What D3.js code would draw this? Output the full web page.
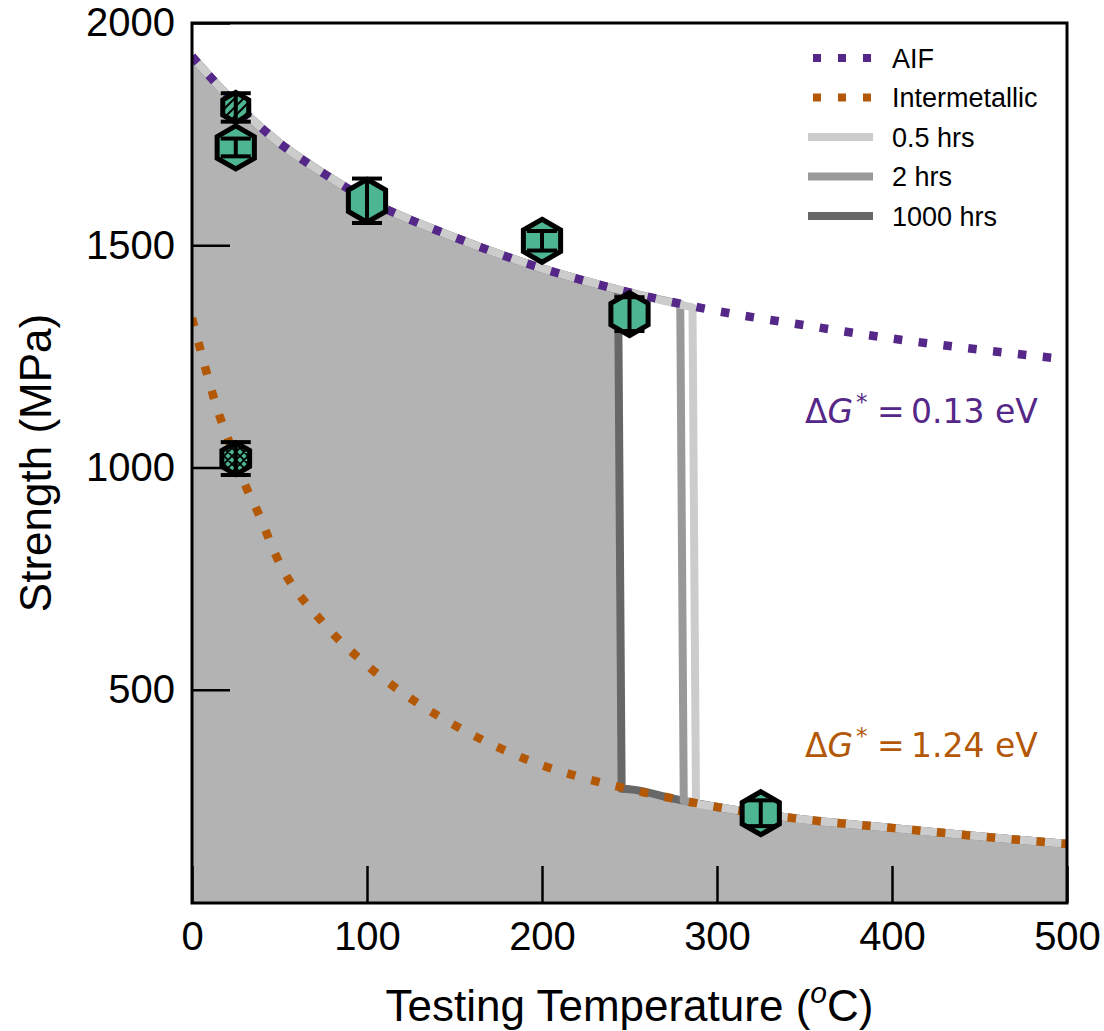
<!DOCTYPE html>
<html>
<head>
<meta charset="utf-8">
<script src="https://cdn.jsdelivr.net/npm/d3@7"></script>
<style>
  html, body { margin: 0; padding: 0; background: #ffffff; }
  svg { display: block; }
</style>
</head>
<body>
<svg id="chart" width="1104" height="1031"></svg>
<script>
// ---------------- data ----------------
const xTickValues = [0, 100, 200, 300, 400, 500];
const yTickValues = [500, 1000, 1500, 2000];

// AIF strength curve
const aifT = [0, 25, 50, 75, 100, 150, 200, 250, 300, 350, 400, 450, 500];
const aifS = [1925, 1818, 1730, 1662, 1603, 1518, 1448, 1394, 1352, 1320, 1290, 1265, 1243];

// Intermetallic strength curve
const interT = [0, 5, 10, 16, 21, 25, 31, 37, 50, 75, 100, 125, 150, 175, 200, 225, 250, 275, 300, 350, 400, 450, 500];
const interS = [1336, 1262, 1190, 1113, 1060, 1018, 955, 905, 785, 650, 555, 480, 420, 370, 330, 300, 276, 255, 236, 208, 189, 170, 153];

// Aging durations: transition from AIF to intermetallic
const durations = ["0.5 hrs", "2 hrs", "1000 hrs"];
const dropStartT = [286, 279, 243.5];
const dropStartS = [1360, 1368, 1400];
const dropEndT = [288, 281, 245.5];
const dropEndS = [243, 250, 277];

// Experimental points
const sampleT = [25, 25, 25, 100, 200, 250, 325];
const sampleS = [1810, 1720, 1020, 1600, 1510, 1345, 222];
const sampleErr = [32, 20, 37, 50, 22, 38, 29];
const sampleType = ["diag", "plain", "cross", "plain", "plain", "plain", "plain"];

const legendLabels = ["AIF", "Intermetallic", "0.5 hrs", "2 hrs", "1000 hrs"];

// ---------------- styles ----------------
const PURPLE = "#542788", ORANGE = "#b35806";
const durationColor = { "0.5 hrs": "#cccccc", "2 hrs": "#999999", "1000 hrs": "#676767" };
const typeStyle = {
  diag:  { r: 15,   fill: "url(#hatchDiag)" },
  plain: { r: 21.5, fill: "#4db592" },
  cross: { r: 16,   fill: "url(#hatchCross)" }
};
const SANS = "'Liberation Sans', Arial, Helvetica, sans-serif";
const DEJAVU = "'DejaVu Sans', sans-serif";

// ---------------- layout ----------------
const L = 192, R = 1067, T = 23, B = 903;
const svg = d3.select("#chart");
const x = d3.scaleLinear().domain([0, 500]).range([L, R]);
const y = d3.scaleLinear().domain([20, 2000]).range([B, T]);

const defs = svg.append("defs");
defs.append("clipPath").attr("id", "plotClip")
  .append("rect").attr("x", L).attr("y", T).attr("width", R - L).attr("height", B - T);

const pd = defs.append("pattern").attr("id", "hatchDiag")
  .attr("patternUnits", "userSpaceOnUse").attr("width", 9).attr("height", 9);
pd.append("rect").attr("width", 9).attr("height", 9).attr("fill", "#4db592");
pd.append("path").attr("d", "M0,9 L9,0 M-2,2 L2,-2 M7,11 L11,7")
  .attr("stroke", "#000").attr("stroke-width", 2);

const pc = defs.append("pattern").attr("id", "hatchCross")
  .attr("patternUnits", "userSpaceOnUse").attr("width", 8).attr("height", 8);
pc.append("rect").attr("width", 8).attr("height", 8).attr("fill", "#4db592");
pc.append("path").attr("d", "M0,8 L8,0 M-2,2 L2,-2 M6,10 L10,6 M0,0 L8,8 M-2,6 L2,10 M6,-2 L10,2")
  .attr("stroke", "#000").attr("stroke-width", 1.8);

// ---------------- helpers ----------------
const lineGen = d3.line().x(d => x(d[0])).y(d => y(d[1])).curve(d3.curveMonotoneX);
const aifPts = aifT.map((t, k) => [t, aifS[k]]);
const interPts = interT.map((t, k) => [t, interS[k]]);

function envelopePath(i) {
  const top = aifPts.filter(d => d[0] < dropStartT[i]);
  top.push([dropStartT[i], dropStartS[i]]);
  const bot = [[dropEndT[i], dropEndS[i]]].concat(interPts.filter(d => d[0] > dropEndT[i]));
  return lineGen(top) + lineGen(bot).replace(/^M/, "L");
}

const plot = svg.append("g").attr("clip-path", "url(#plotClip)");

// fill under the 1000 hrs envelope
const iLong = durations.indexOf("1000 hrs");
plot.append("path")
  .attr("d", envelopePath(iLong) + `L${x(500)},${y(20)}L${x(0)},${y(20)}Z`)
  .attr("fill", "#b3b3b3");

// ---------------- axes ----------------
const xAxis = svg.append("g").attr("transform", `translate(0,${B})`)
  .call(d3.axisBottom(x).tickValues(xTickValues).tickSizeInner(-37).tickSizeOuter(0).tickPadding(19).tickFormat(d3.format("d")));
const yAxis = svg.append("g").attr("transform", `translate(${L},0)`)
  .call(d3.axisLeft(y).tickValues(yTickValues).tickSizeInner(-38).tickSizeOuter(0).tickPadding(17).tickFormat(d3.format("d")));
[xAxis, yAxis].forEach(a => {
  a.select(".domain").remove();
  a.selectAll(".tick line").attr("stroke", "#000").attr("stroke-width", 2.5);
  a.selectAll(".tick text").attr("fill", "#000").attr("font-family", SANS).attr("font-size", 40);
});

// ---------------- duration lines ----------------
// draw long-time first so the short-time lines sit on top
[2, 1, 0].forEach(i => {
  plot.append("path")
    .attr("d", envelopePath(i))
    .attr("fill", "none")
    .attr("stroke", durationColor[durations[i]])
    .attr("stroke-width", 8)
    .attr("stroke-linejoin", "round");
});

// ---------------- dotted model curves ----------------
plot.append("path").attr("d", lineGen(aifPts))
  .attr("fill", "none").attr("stroke", PURPLE).attr("stroke-width", 8.5)
  .attr("stroke-dasharray", "8.5 16.5");
plot.append("path").attr("d", lineGen(interPts))
  .attr("fill", "none").attr("stroke", ORANGE).attr("stroke-width", 8.5)
  .attr("stroke-dasharray", "8.5 16.5");

// ---------------- markers ----------------
const hexLine = d3.line().curve(d3.curveLinearClosed);
function hexagon(cx, cy, r) {
  const pts = d3.range(6).map(k => {
    const a = (-90 + 60 * k) * Math.PI / 180;
    return [cx + r * Math.cos(a), cy + r * Math.sin(a)];
  });
  return hexLine(pts);
}
const markers = svg.append("g");
sampleT.forEach((t, k) => {
  const st = typeStyle[sampleType[k]];
  markers.append("path")
    .attr("d", hexagon(x(t), y(sampleS[k]), st.r))
    .attr("fill", st.fill)
    .attr("stroke", "#000")
    .attr("stroke-width", 5)
    .attr("stroke-linejoin", "miter");
});
// error bars on top
const errG = svg.append("g").attr("stroke", "#000").attr("stroke-width", 4);
const capHalf = 15;
sampleT.forEach((t, k) => {
  const cx = x(t), y1 = y(sampleS[k] - sampleErr[k]), y2 = y(sampleS[k] + sampleErr[k]);
  errG.append("line").attr("x1", cx).attr("x2", cx).attr("y1", y1).attr("y2", y2);
  errG.append("line").attr("x1", cx - capHalf).attr("x2", cx + capHalf).attr("y1", y1).attr("y2", y1);
  errG.append("line").attr("x1", cx - capHalf).attr("x2", cx + capHalf).attr("y1", y2).attr("y2", y2);
});

// ---------------- frame ----------------
svg.append("rect").attr("x", L).attr("y", T).attr("width", R - L).attr("height", B - T)
  .attr("fill", "none").attr("stroke", "#000").attr("stroke-width", 3);

// ---------------- axis labels ----------------
const xl = svg.append("text").attr("x", (L + R) / 2).attr("y", 1021)
  .attr("text-anchor", "middle").attr("font-family", SANS).attr("font-size", 44).attr("fill", "#000");
xl.append("tspan").text("Testing Temperature (");
xl.append("tspan").attr("font-style", "italic").attr("font-size", 30).attr("dy", -18).text("o");
xl.append("tspan").attr("dy", 18).text("C)");

svg.append("text")
  .attr("transform", `translate(51,${(T + B) / 2}) rotate(-90)`)
  .attr("text-anchor", "middle").attr("font-family", SANS).attr("font-size", 44).attr("fill", "#000")
  .text("Strength (MPa)");

// ---------------- legend ----------------
const lg = svg.append("g");
const legendStyle = [
  { color: PURPLE, dash: "8 17" },
  { color: ORANGE, dash: "8 17" },
  { color: durationColor["0.5 hrs"], dash: null },
  { color: durationColor["2 hrs"], dash: null },
  { color: durationColor["1000 hrs"], dash: null }
];
legendLabels.forEach((lab, k) => {
  const cy = 58 + k * 39.5;
  const s = legendStyle[k];
  lg.append("line")
    .attr("x1", s.dash ? 813 : 808).attr("x2", s.dash ? 871 : 873)
    .attr("y1", cy).attr("y2", cy)
    .attr("stroke", s.color).attr("stroke-width", 8)
    .attr("stroke-dasharray", s.dash);
  lg.append("text").attr("x", 892).attr("y", cy + 9.5)
    .attr("font-family", SANS).attr("font-size", 27).attr("fill", "#000").text(lab);
});

// ---------------- annotations ----------------
function dgLabel(yBase, color, value) {
  const t = svg.append("text").attr("y", yBase).attr("font-family", DEJAVU)
    .attr("font-size", 33).attr("fill", color);
  t.append("tspan").attr("x", 805).text("Δ");
  t.append("tspan").attr("font-style", "italic").text("G");
  t.append("tspan").attr("x", 856).attr("dy", -13).attr("font-size", 23).text("*");
  t.append("tspan").attr("x", 877).attr("dy", 13).text("=");
  t.append("tspan").attr("x", 911).text(value + " eV");
}
dgLabel(423, PURPLE, "0.13");
dgLabel(757, ORANGE, "1.24");
</script>
</body>
</html>
